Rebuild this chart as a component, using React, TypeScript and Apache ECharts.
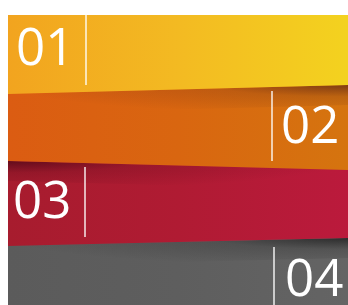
import React, { useEffect, useRef } from "react";
import * as echarts from "echarts";

const labels = ["01", "02", "03", "04"];
const leftColors = ["#F2A41F", "#DB5C12", "#A71C2E", "#5B5B5B"];
const midColors = ["#F3BA22", "#D96610", "#B01B33", "#5E5E5E"];
const rightColors = ["#F3D21F", "#D5740F", "#BB1A3C", "#646464"];

// band geometry: [topLeft, topRight, bottomLeft, bottomRight]
const bandEdges = [
  [15, 15, 94, 85],
  [90, 80, 161, 170],
  [158, 165, 246, 238],
  [238, 230, 305, 305],
];
const labelSide = ["left", "right", "left", "right"];

export default function App() {
  const ref = useRef<HTMLDivElement>(null);
  useEffect(() => {
    if (!ref.current) return;
    const chart = echarts.init(ref.current, null, { renderer: "svg" });
    const L = 8;
    const R = 348;
    const elements: any[] = [];
    const grad = (i: number) => ({
      type: "linear",
      x: 0, y: 0, x2: 1, y2: 0,
      colorStops: [
        { offset: 0, color: leftColors[i] },
        { offset: 0.5, color: midColors[i] },
        { offset: 1, color: rightColors[i] },
      ],
    });
    for (let i = 3; i >= 0; i--) {
      const [tl, tr, bl, br] = bandEdges[i];
      elements.push({
        type: "polygon",
        shape: { points: [[L, tl], [R, tr], [R, br], [L, bl]] },
        style: { fill: grad(i) },
        z: 10 - i,
      });
      if (i > 0) {
        const [, , pbl, pbr] = bandEdges[i - 1];
        const fromRight = i !== 2;
        const h = 20;
        const base = i === 1 ? "90,35,20" : i === 2 ? "70,5,20" : "20,20,20";
        elements.push({
          type: "polygon",
          shape: { points: [[L, pbl], [R, pbr], [R, pbr + h], [L, pbl + h]] },
          style: {
            fill: {
              type: "radial",
              x: fromRight ? 1 : 0,
              y: 0,
              r: 1,
              colorStops: [
                { offset: 0, color: `rgba(${base},0.7)` },
                { offset: 0.4, color: `rgba(${base},0.2)` },
                { offset: 1, color: `rgba(${base},0)` },
              ],
            },
          },
          z: 10 - i,
        });
      }
      const isLeft = labelSide[i] === "left";
      const lineX = isLeft ? (i === 0 ? 86 : 85) : i === 1 ? 272 : 274;
      const lineTop = [15, 91, 167, 247][i];
      const lineBot = i === 3 ? 305 : lineTop + 70;
      elements.push({
        type: "line",
        shape: { x1: lineX, y1: lineTop, x2: lineX, y2: lineBot },
        style: { stroke: "rgba(255,255,255,0.9)", lineWidth: 1.5 },
        z: 10 - i,
      });
      const topY = [19, 97, 172, 250][i];
      const textX = [16, 281, 13, 285][i];
      elements.push({
        type: "text",
        x: textX,
        y: topY,
        style: {
          text: labels[i],
          fill: "#ffffff",
          font: '400 51px "Open Sans"',
          textAlign: "left",
          textVerticalAlign: "top",
        },
        z: 10 - i,
      });
    }
    chart.setOption({
      animation: false,
      backgroundColor: "#ffffff",
      graphic: { elements },
    });
    return () => chart.dispose();
  }, []);
  return (
    <div
      ref={ref}
      style={{ position: "fixed", left: 0, top: 0, width: 348, height: 305, background: "#fff" }}
    />
  );
}
